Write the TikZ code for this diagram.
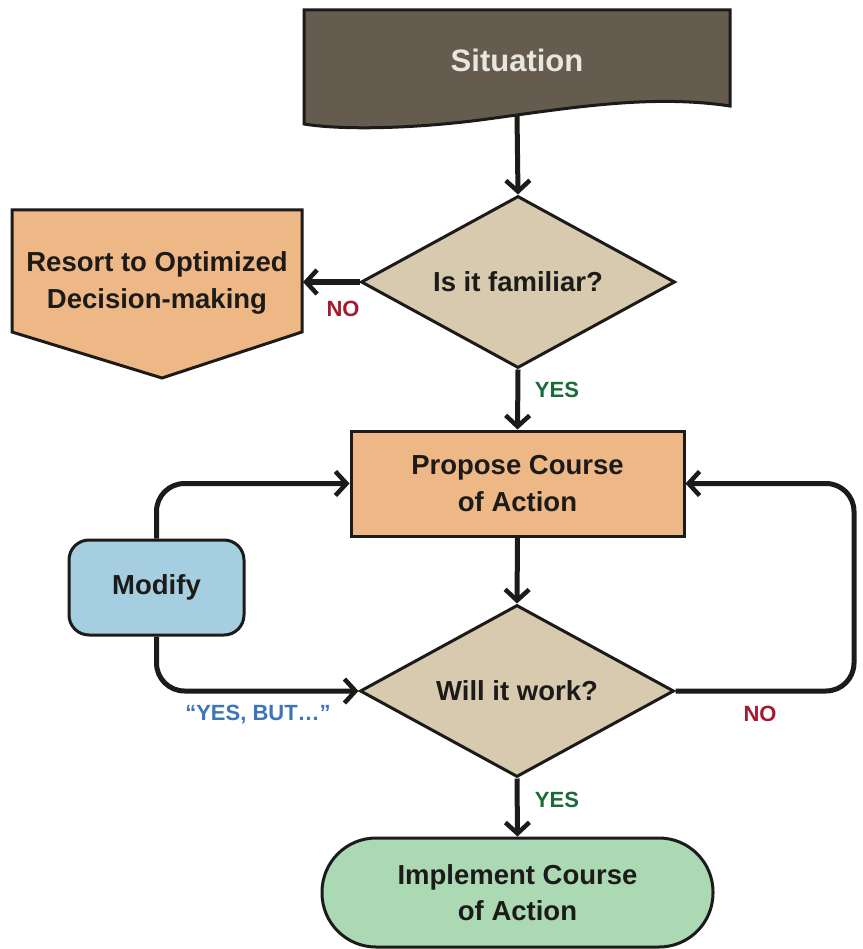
\documentclass[tikz,border=0pt]{standalone}
\usepackage{fontspec}
\setmainfont{Liberation Sans}
\usetikzlibrary{arrows.meta,shapes.geometric}
\definecolor{sitfill}{HTML}{655C4F}
\definecolor{sittext}{HTML}{E9E6E0}
\definecolor{decfill}{HTML}{D8CAAE}
\definecolor{orfill}{HTML}{EEB886}
\definecolor{modfill}{HTML}{A5CFE0}
\definecolor{termfill}{HTML}{ABD9B3}
\definecolor{inkc}{HTML}{1C1B19}
\definecolor{nored}{HTML}{A6192E}
\definecolor{yesgreen}{HTML}{1B6B3A}
\definecolor{butblue}{HTML}{3B75BA}
\begin{document}
\begin{tikzpicture}[x=1pt,y=-1pt,
  boxtext/.style={font=\fontsize{27.5}{36.5}\selectfont\bfseries, text=inkc, align=center},
  shapeline/.style={draw=inkc, line width=3pt, line join=miter},
  decision/.style={shapeline, diamond, aspect=1.83, fill=decfill, minimum width=314pt, minimum height=172pt, inner sep=0pt, boxtext},
  procbox/.style={shapeline, rectangle, fill=orfill, minimum width=333pt, minimum height=105pt, inner sep=0pt, boxtext},
  modbox/.style={shapeline, rectangle, rounded corners=20pt, fill=modfill, minimum width=175pt, minimum height=95pt, inner sep=0pt, boxtext},
  termbox/.style={shapeline, rectangle, rounded corners=54pt, fill=termfill, minimum width=391pt, minimum height=109pt, inner sep=0pt, boxtext},
  conn/.style={draw=inkc, line width=5pt, -{Straight Barb[length=11pt,width=24pt,line width=4.5pt]}},
  lbl/.style={font=\fontsize{22}{26}\selectfont\bfseries},
]
\useasboundingbox (0,0) rectangle (862,949);
\fill[white] (0,0) rectangle (862,949);

% Situation (document shape)
\draw[shapeline, fill=sitfill] (304,10) -- (730,10) -- (730,106)
  .. controls (650,94) and (570,108) .. (480,120)
  .. controls (410,129) and (340,130) .. (304,124) -- cycle;
\node[boxtext, text=sittext, font=\fontsize{31}{36}\selectfont\bfseries] (sit) at (517,60) {Situation};
\coordinate (sitb) at (517,115);

% Off-page: optimized decision-making
\draw[shapeline, fill=orfill] (12,210) -- (302,210) -- (302,332) -- (162,378) -- (12,332) -- cycle;
\node[boxtext] (opt) at (157,283) {Resort to Optimized\\Decision-making};
\coordinate (optr) at (303,282);

% Decisions and boxes
\node[decision] (d1) at (518,282) {Is it familiar?};
\node[procbox] (prop) at (517.5,483.5) {Propose Course\\of Action};
\node[modbox] (mod) at (156.5,587.5) {Modify};
\node[decision] (d2) at (517,691) {Will it work?};
\node[termbox] (term) at (517.5,892.5) {Implement Course\\of Action};
\coordinate (rc) at (854,586);

% Connectors
\draw[conn] (sitb) -- (d1.north);
\draw[conn] (d1.west) -- (optr);
\draw[conn] (d1.south) -- (prop.north);
\draw[conn] (prop.south) -- (d2.north);
\draw[conn] (d2.south) -- (term.north);
\draw[conn, rounded corners=28pt] (mod.north) |- (prop.west);
\draw[conn, rounded corners=28pt] (mod.south) |- (d2.west);
\draw[conn, rounded corners=28pt] (d2.east) -| (rc) |- (prop.east);

% Labels
\node[lbl, text=nored] (l1) at (343,309) {NO};
\node[lbl, text=yesgreen] (l2) at (557,390) {YES};
\node[lbl, text=butblue] (l3) at (258,715) {“YES, BUT…”};
\node[lbl, text=nored] (l4) at (760,714) {NO};
\node[lbl, text=yesgreen] (l5) at (557,800) {YES};
\end{tikzpicture}
\end{document}
